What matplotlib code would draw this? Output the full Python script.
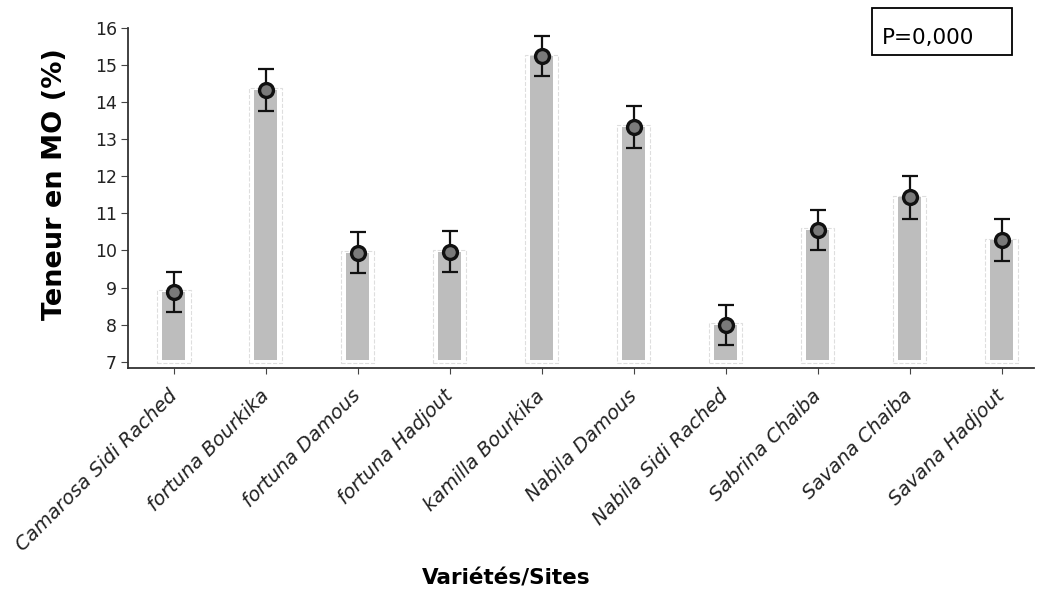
import numpy as np
from matplotlib import pyplot as plt
from matplotlib.patches import Rectangle

# Varieties / sites and mean organic matter content (%) with error bars
sites = ['Camarosa Sidi Rached', 'fortuna Bourkika', 'fortuna Damous',
         'fortuna Hadjout', 'kamilla Bourkika', 'Nabila Damous',
         'Nabila Sidi Rached', 'Sabrina Chaiba', 'Savana Chaiba',
         'Savana Hadjout']
mo_mean = [8.88, 14.33, 9.94, 9.97, 15.24, 13.33, 7.99, 10.56, 11.43, 10.28]
mo_err = [0.54, 0.57, 0.56, 0.55, 0.54, 0.56, 0.53, 0.54, 0.57, 0.56]
yticks = [7, 8, 9, 10, 11, 12, 13, 14, 15, 16]
p_text = 'P=0,000'

base = 7.05
x = np.arange(len(sites))
heights = np.array(mo_mean) - base

fig = plt.figure(figsize=(10.38, 6.0), dpi=100)
ax = fig.add_axes([0.1233, 0.3867, 0.8727, 0.5667])

#   glow / dashed halo around each bar, then the bar itself
ax.bar(x, heights + 0.12, width=0.36, bottom=base - 0.08, color='white',
       edgecolor='#dedede', linestyle='--', linewidth=0.8, zorder=1)
ax.bar(x, heights, width=0.25, bottom=base, color='#bdbdbd',
       edgecolor='none', zorder=2)

#   means with error bars
ax.errorbar(x, mo_mean, yerr=mo_err, fmt='none', ecolor='#111111',
            elinewidth=1.6, capsize=5.5, capthick=1.6, zorder=3)
ax.plot(x, mo_mean, 'o', markersize=10, markerfacecolor='#7a7a7a',
        markeredgecolor='#111111', markeredgewidth=2.4, zorder=4)

ax.set_xlim(-0.5, 9.35)
ax.set_ylim(6.83, 16)
ax.set_yticks(yticks)
ax.set_xticks(x)
ax.set_xticklabels(sites, rotation=45, ha='right', va='center',
                   rotation_mode='anchor', fontsize=14, style='italic',
                   color='#222222')
ax.tick_params(axis='x', pad=14, length=4, color='#444444')
ax.tick_params(axis='y', labelsize=12.5, length=5, pad=3, color='#444444',
               labelcolor='#222222')

for side in ['top', 'right']:
    ax.spines[side].set_visible(False)
for side in ['left', 'bottom']:
    ax.spines[side].set_color('#333333')
    ax.spines[side].set_linewidth(1.3)

ax.set_ylabel('Teneur en MO (%)', fontsize=19.5, fontweight='bold')
ax.yaxis.set_label_coords(-(128 - 68) / 906, (368 - 184) / 340)
fig.text(506 / 1038, 1 - 578 / 600, 'Variétés/Sites', fontsize=15.5,
         fontweight='bold', ha='center', va='center')

#   p-value box
fig.patches.append(Rectangle((872 / 1038, 1 - 55 / 600), 140 / 1038,
                             47 / 600, transform=fig.transFigure,
                             facecolor='white', edgecolor='black',
                             linewidth=1.3))
fig.text(882 / 1038, 1 - 38 / 600, p_text, fontsize=15.5, ha='left',
         va='center')

plt.savefig('out.png', dpi=100)
